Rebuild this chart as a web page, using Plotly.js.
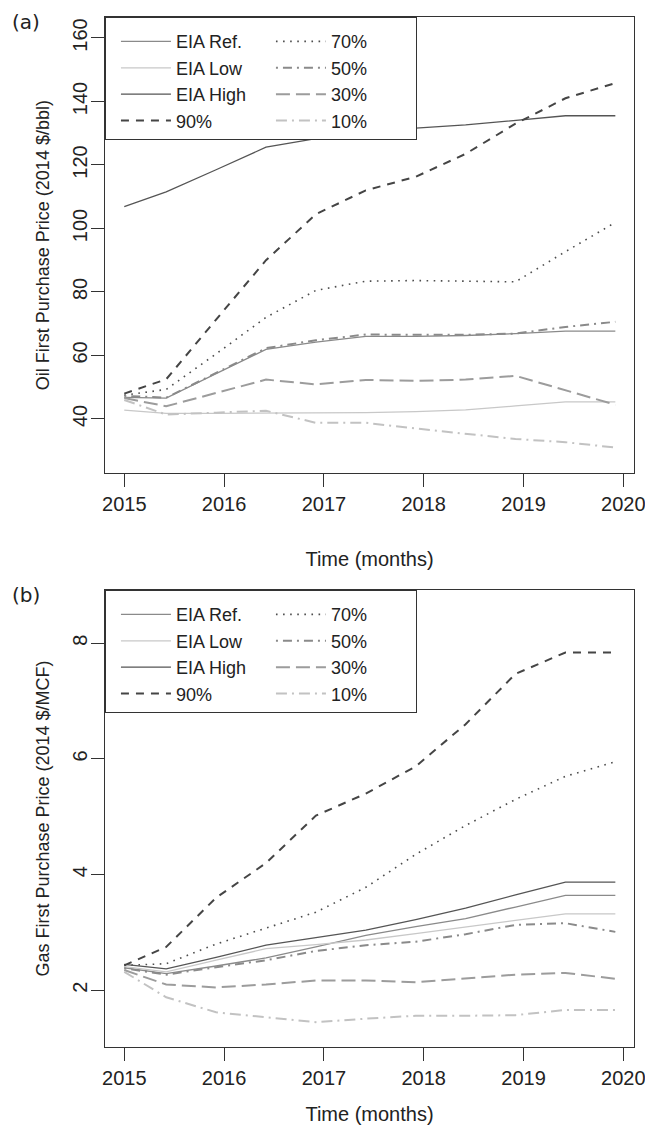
<!DOCTYPE html>
<html>
<head>
<meta charset="utf-8">
<script src="https://cdn.plot.ly/plotly-3.0.1.min.js"></script>
<style>
  html, body { margin: 0; padding: 0; background: #fff; }
  #chart { width: 645px; height: 1125px; }
</style>
</head>
<body>
<div id="chart"></div>
<script>
// Sample dates (decimal years) shared by both panels
const months = [2015.0, 2015.42, 2015.92, 2016.42, 2016.92, 2017.42, 2017.92, 2018.42, 2018.92, 2019.42, 2019.92];

// (a) Oil first purchase price, 2014 $/bbl
const oilEiaRef  = [46.8, 46.6, 54.3, 61.9, 64.2, 66.0, 66.0, 66.3, 66.9, 67.7, 67.7];
const oilEiaLow  = [42.8, 41.8, 41.8, 41.8, 41.9, 42.0, 42.3, 42.9, 44.1, 45.4, 45.4];
const oilEiaHigh = [106.9, 111.5, 118.5, 125.6, 128.3, 130.0, 131.6, 132.6, 134.0, 135.5, 135.5];
const oilP90 = [48.0, 52.5, 71.3, 90.0, 104.5, 112.0, 116.3, 123.5, 133.0, 141.0, 145.8];
const oilP70 = [47.5, 49.3, 60.5, 72.0, 80.5, 83.4, 83.6, 83.4, 83.2, 92.7, 101.9];
const oilP50 = [47.3, 46.7, 54.5, 62.3, 64.8, 66.6, 66.5, 66.5, 66.9, 69.0, 70.6];
const oilP30 = [46.6, 44.0, 48.2, 52.4, 50.9, 52.3, 52.0, 52.4, 53.6, 49.0, 44.5];
const oilP10 = [46.0, 41.4, 42.0, 42.6, 38.8, 38.8, 37.0, 35.3, 33.7, 32.7, 31.0];

// (b) Gas first purchase price, 2014 $/MCF
const gasEiaRef  = [2.39, 2.29, 2.42, 2.56, 2.75, 2.95, 3.10, 3.24, 3.44, 3.64, 3.64];
const gasEiaLow  = [2.41, 2.32, 2.52, 2.72, 2.79, 2.87, 2.98, 3.10, 3.21, 3.32, 3.32];
const gasEiaHigh = [2.45, 2.37, 2.57, 2.78, 2.91, 3.04, 3.22, 3.42, 3.65, 3.87, 3.87];
const gasP90 = [2.43, 2.75, 3.60, 4.20, 5.02, 5.40, 5.87, 6.60, 7.47, 7.84, 7.84];
const gasP70 = [2.43, 2.46, 2.80, 3.07, 3.35, 3.78, 4.35, 4.85, 5.30, 5.70, 5.95];
const gasP50 = [2.38, 2.27, 2.40, 2.52, 2.68, 2.78, 2.84, 2.97, 3.13, 3.16, 3.01];
const gasP30 = [2.35, 2.10, 2.05, 2.10, 2.17, 2.17, 2.14, 2.20, 2.27, 2.30, 2.20];
const gasP10 = [2.32, 1.88, 1.62, 1.54, 1.45, 1.51, 1.56, 1.56, 1.57, 1.66, 1.66];

// Axis ticks
const yearTicks  = [2015, 2016, 2017, 2018, 2019, 2020];
const yearLabels = ['2015', '2016', '2017', '2018', '2019', '2020'];
const oilTicks = [40, 60, 80, 100, 120, 140, 160];
const gasTicks = [2, 4, 6, 8];

// Series names, in legend order (two columns, filled row by row)
const seriesNames = ['EIA Ref.', '70%', 'EIA Low', '50%', 'EIA High', '30%', '90%', '10%'];

const oilSeries = {
  'EIA Ref.': oilEiaRef, 'EIA Low': oilEiaLow, 'EIA High': oilEiaHigh,
  '90%': oilP90, '70%': oilP70, '50%': oilP50, '30%': oilP30, '10%': oilP10
};
const gasSeries = {
  'EIA Ref.': gasEiaRef, 'EIA Low': gasEiaLow, 'EIA High': gasEiaHigh,
  '90%': gasP90, '70%': gasP70, '50%': gasP50, '30%': gasP30, '10%': gasP10
};

// Line appearance per series
const lineStyles = {
  'EIA Ref.': { color: '#8a8a8a', width: 1.3, dash: 'solid' },
  'EIA Low':  { color: '#c8c8c8', width: 1.3, dash: 'solid' },
  'EIA High': { color: '#555555', width: 1.3, dash: 'solid' },
  '90%':      { color: '#454545', width: 2.0, dash: '8px,7px' },
  '70%':      { color: '#4d4d4d', width: 1.6, dash: '1.6px,5.5px' },
  '50%':      { color: '#8a8a8a', width: 2.0, dash: '2px,5px,9px,5px' },
  '30%':      { color: '#9c9c9c', width: 2.0, dash: '14px,6px' },
  '10%':      { color: '#c2c2c2', width: 2.0, dash: '11px,5px,2px,5px' }
};

function panelTraces(series, xa, ya, legendId) {
  return seriesNames.map(name => ({
    type: 'scatter',
    mode: 'lines',
    name: name,
    x: months,
    y: series[name],
    xaxis: xa,
    yaxis: ya,
    legend: legendId,
    line: Object.assign({}, lineStyles[name]),
    hoverinfo: 'skip'
  }));
}

const data = panelTraces(oilSeries, 'x', 'y', 'legend')
  .concat(panelTraces(gasSeries, 'x2', 'y2', 'legend2'));

const FONT = 'Liberation Sans, Arial, Helvetica, sans-serif';
const INK = '#222';
const LINE = '#333';

function xAxis(anchor, titleGap) {
  return {
    anchor: anchor,
    domain: [0, 1],
    range: [2014.807, 2020.107],
    tickvals: yearTicks,
    ticktext: yearLabels,
    ticks: 'outside', ticklen: 13, tickwidth: 1, tickcolor: LINE,
    ticklabeloverflow: 'allow',
    showline: true, mirror: true, linecolor: LINE, linewidth: 1,
    showgrid: false, zeroline: false,
    tickfont: { family: FONT, size: 20, color: INK },
    automargin: true,
    title: { text: 'Time (months)', standoff: titleGap, font: { family: FONT, size: 20, color: INK } }
  };
}

function yAxis(anchor, domain, range, ticks, title) {
  return {
    anchor: anchor,
    domain: domain,
    range: range,
    tickvals: ticks,
    tickangle: -90,
    ticks: 'outside', ticklen: 13, tickwidth: 1, tickcolor: LINE,
    ticklabelstandoff: -4,
    showline: true, mirror: true, linecolor: LINE, linewidth: 1,
    showgrid: false, zeroline: false,
    tickfont: { family: FONT, size: 20, color: INK },
    automargin: true,
    title: { text: title, standoff: 14, font: { family: FONT, size: 18, color: INK } }
  };
}

function legendBox(yTop) {
  return {
    orientation: 'h',
    x: -0.0001, xanchor: 'left',
    y: yTop, yanchor: 'top',
    entrywidth: 80,
    itemwidth: 50,
    indentation: 10,
    // a tiny blank heading gives the framed key some room above its first row
    title: { text: '\u00A0', side: 'top', font: { family: FONT, size: 4, color: INK } },
    bgcolor: '#ffffff',
    bordercolor: LINE, borderwidth: 1,
    font: { family: FONT, size: 18, color: INK },
    traceorder: 'normal'
  };
}

const topDomain = [0.557, 1];
const bottomDomain = [0, 0.4437];

const layout = {
  width: 645, height: 1125,
  margin: { l: 105, r: 11, t: 17, b: 78, autoexpand: false },
  paper_bgcolor: '#ffffff',
  plot_bgcolor: '#ffffff',
  font: { family: FONT, size: 18, color: INK },
  showlegend: true,
  xaxis: xAxis('y', 37),
  yaxis: yAxis('x', topDomain, [22.9, 166.6], oilTicks, 'Oil First Purchase Price (2014 $/bbl)'),
  xaxis2: xAxis('y2', 22),
  yaxis2: yAxis('x2', bottomDomain, [1.02, 8.92], gasTicks, 'Gas First Purchase Price (2014 $/MCF)'),
  legend: legendBox(topDomain[1]),
  legend2: legendBox(bottomDomain[1]),
  annotations: [
    { text: '(a)', xref: 'paper', yref: 'paper', x: -0.1493, y: 0.9955,
      xanchor: 'center', yanchor: 'middle', showarrow: false,
      font: { family: 'DejaVu Sans, sans-serif', size: 20, color: INK } },
    { text: '(b)', xref: 'paper', yref: 'paper', x: -0.1493, y: 0.4388,
      xanchor: 'center', yanchor: 'middle', showarrow: false,
      font: { family: 'DejaVu Sans, sans-serif', size: 20, color: INK } }
  ]
};

Plotly.newPlot('chart', data, layout, { staticPlot: true, displayModeBar: false });
</script>
</body>
</html>
